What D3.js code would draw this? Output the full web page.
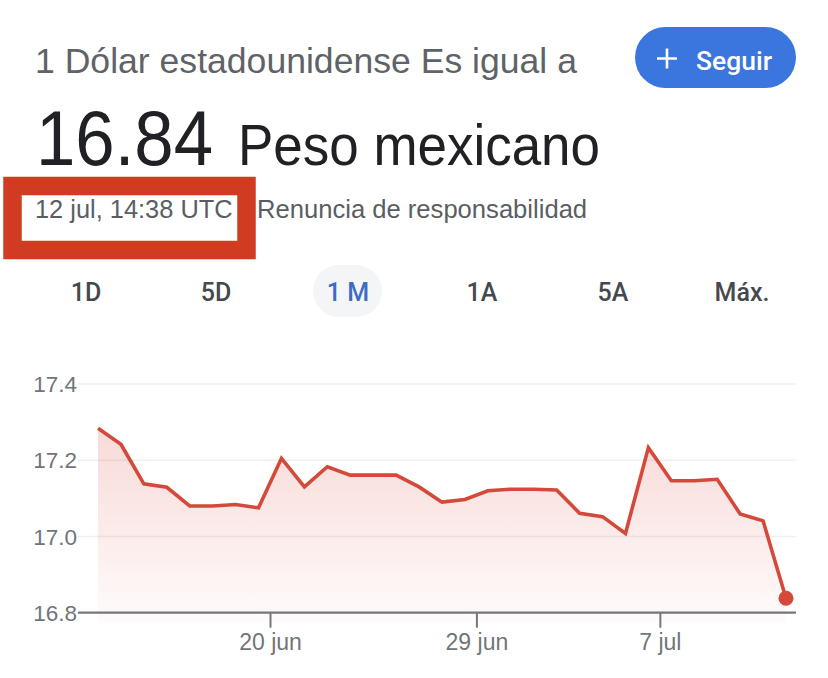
<!DOCTYPE html>
<html>
<head>
<meta charset="utf-8">
<script src="https://cdn.jsdelivr.net/npm/d3@7"></script>
<style>
  html, body { margin: 0; padding: 0; background: #ffffff; }
  svg { display: block; }
</style>
</head>
<body>
<div id="chart"></div>
<script>
// ---------- data ----------
const dates = [
  "2023-06-12","2023-06-13","2023-06-14","2023-06-15","2023-06-16","2023-06-17","2023-06-18",
  "2023-06-19","2023-06-20","2023-06-21","2023-06-22","2023-06-23","2023-06-24","2023-06-25",
  "2023-06-26","2023-06-27","2023-06-28","2023-06-29","2023-06-30","2023-07-01","2023-07-02",
  "2023-07-03","2023-07-04","2023-07-05","2023-07-06","2023-07-07","2023-07-08","2023-07-09",
  "2023-07-10","2023-07-11","2023-07-12"
];
const rates = [
  17.284, 17.242, 17.138, 17.129, 17.080, 17.080, 17.084,
  17.075, 17.205, 17.130, 17.183, 17.161, 17.161, 17.161,
  17.130, 17.090, 17.097, 17.120, 17.124, 17.124, 17.122,
  17.061, 17.052, 17.008, 17.233, 17.146, 17.146, 17.150,
  17.059, 17.041, 16.838
];
const yTicks = [16.8, 17.0, 17.2, 17.4];
const yTickLabels = ["16.8", "17.0", "17.2", "17.4"];
const xTickDates = ["2023-06-20", "2023-06-29", "2023-07-07"];
const xTickLabels = ["20 jun", "29 jun", "7 jul"];
const tabs = ["1D", "5D", "1 M", "1A", "5A", "Máx."];
const activeTab = "1 M";
const headerLine = "1 Dólar estadounidense Es igual a";
const currentValue = "16.84";
const currencyName = "Peso mexicano";
const timestamp = "12 jul, 14:38 UTC";
const disclaimer = "Renuncia de responsabilidad";
const followLabel = "Seguir";

// ---------- setup ----------
const W = 828, H = 678;
const parsePoint = d3.timeParse("%Y-%m-%d %H:%M");
const parseDay = d3.timeParse("%Y-%m-%d");
const data = dates.map((d, i) => ({ date: parsePoint(d + " 12:00"), value: rates[i] }));

const svg = d3.select("#chart").append("svg")
  .attr("width", W).attr("height", H)
  .attr("viewBox", `0 0 ${W} ${H}`);
svg.append("rect").attr("width", W).attr("height", H).attr("fill", "#fff");

const SANS = "'Liberation Sans', Arial, Helvetica, sans-serif";
const MED = "Roboto, 'Liberation Sans', Arial, sans-serif";

// ---------- header ----------
svg.append("text")
  .attr("x", 35).attr("y", 73)
  .attr("font-family", SANS).attr("font-size", 35.6)
  .attr("fill", "#5f6368")
  .text(headerLine);

// Follow button
const btn = svg.append("g");
btn.append("rect")
  .attr("x", 635).attr("y", 27).attr("width", 161).attr("height", 61)
  .attr("rx", 30.5).attr("fill", "#3a76dd");
btn.append("path")
  .attr("d", "M657,58.5 H677 M667,48.5 V68.5")
  .attr("stroke", "#fff").attr("stroke-width", 2.6).attr("fill", "none");
btn.append("text")
  .attr("x", 696).attr("y", 70)
  .attr("font-family", MED).attr("font-size", 25).attr("font-weight", 500)
  .attr("fill", "#fff")
  .attr("textLength", 76).attr("lengthAdjust", "spacingAndGlyphs")
  .text(followLabel);

// big value
svg.append("text")
  .attr("x", 36).attr("y", 165)
  .attr("font-family", SANS).attr("font-size", 77)
  .attr("fill", "#202124")
  .attr("textLength", 177).attr("lengthAdjust", "spacingAndGlyphs")
  .text(currentValue);
svg.append("text")
  .attr("x", 238).attr("y", 165)
  .attr("font-family", SANS).attr("font-size", 57)
  .attr("fill", "#202124")
  .attr("textLength", 362).attr("lengthAdjust", "spacingAndGlyphs")
  .text(currencyName);

// red highlight frame
svg.append("rect")
  .attr("x", 12.5).attr("y", 186).attr("width", 234).attr("height", 64)
  .attr("fill", "none").attr("stroke", "#d03c21").attr("stroke-width", 18.5);

svg.append("text")
  .attr("x", 35).attr("y", 218)
  .attr("font-family", SANS).attr("font-size", 25.4)
  .attr("fill", "#5a5e63")
  .text(timestamp);
svg.append("text")
  .attr("x", 257).attr("y", 218)
  .attr("font-family", SANS).attr("font-size", 25.6)
  .attr("fill", "#5a5e63")
  .text(disclaimer);

// ---------- tabs ----------
const tabX = d3.scalePoint().domain(tabs).range([86, 742]);
const tabCenters = { "1D": 86, "5D": 216, "1 M": 348, "1A": 482, "5A": 613, "Máx.": 742 };
svg.append("rect")
  .attr("x", 313).attr("y", 265).attr("width", 69).attr("height", 52)
  .attr("rx", 26).attr("fill", "#f4f5f6");
svg.append("g").selectAll("text").data(tabs).join("text")
  .attr("x", d => tabCenters[d] !== undefined ? tabCenters[d] : tabX(d))
  .attr("y", 301)
  .attr("text-anchor", "middle")
  .attr("font-family", MED).attr("font-size", 25).attr("font-weight", 500)
  .attr("fill", d => d === activeTab ? "#3d6cc7" : "#45494e")
  .text(d => d);

// ---------- chart ----------
const x = d3.scaleTime()
  .domain(d3.extent(data, d => d.date))
  .range([98, 786]);
const y = d3.scaleLinear()
  .domain([yTicks[0], yTicks[yTicks.length - 1]])
  .range([612.7, 384]);
const plotLeft = 78, plotRight = 796;

// gridlines
svg.append("g").selectAll("line").data(yTicks.slice(1)).join("line")
  .attr("x1", plotLeft).attr("x2", plotRight)
  .attr("y1", d => y(d)).attr("y2", d => y(d))
  .attr("stroke", "#efefef").attr("stroke-width", 1.5);

// y labels
svg.append("g").selectAll("text").data(yTicks).join("text")
  .attr("x", 77).attr("y", d => y(d))
  .attr("dy", "0.36em")
  .attr("text-anchor", "end")
  .attr("font-family", SANS).attr("font-size", 22.5)
  .attr("fill", "#70757a")
  .text((d, i) => yTickLabels[i]);

// area gradient
const defs = svg.append("defs");
const grad = defs.append("linearGradient")
  .attr("id", "areaGrad")
  .attr("gradientUnits", "userSpaceOnUse")
  .attr("x1", 0).attr("x2", 0)
  .attr("y1", y(d3.max(rates))).attr("y2", y(yTicks[0]) + 10);
grad.append("stop").attr("offset", "0%").attr("stop-color", "#d9463a").attr("stop-opacity", 0.2);
grad.append("stop").attr("offset", "100%").attr("stop-color", "#d9463a").attr("stop-opacity", 0.02);

const area = d3.area()
  .x(d => x(d.date))
  .y0(y(yTicks[0]) + 10)
  .y1(d => y(d.value));
svg.append("path").datum(data)
  .attr("d", area)
  .attr("fill", "url(#areaGrad)");

// x axis
const xAxis = d3.axisBottom(x)
  .tickValues(xTickDates.map(parseDay))
  .tickFormat((d, i) => xTickLabels[i])
  .tickSize(15).tickSizeOuter(0).tickPadding(6);
const gx = svg.append("g")
  .attr("transform", `translate(0,${y(yTicks[0])})`)
  .call(xAxis);
gx.select(".domain").remove();
gx.insert("line", ":first-child")
  .attr("x1", plotLeft).attr("x2", plotRight)
  .attr("y1", 0).attr("y2", 0)
  .attr("stroke", "#74777b").attr("stroke-width", 2.2);
gx.selectAll(".tick line").attr("stroke", "#74777b").attr("stroke-width", 2);
gx.selectAll(".tick text")
  .attr("font-family", SANS).attr("font-size", 23)
  .attr("fill", "#70757a");

// line
const line = d3.line()
  .x(d => x(d.date))
  .y(d => y(d.value));
svg.append("path").datum(data)
  .attr("d", line)
  .attr("fill", "none")
  .attr("stroke", "#d4493a")
  .attr("stroke-width", 3.6)
  .attr("stroke-linejoin", "miter");

// last point dot
const last = data[data.length - 1];
svg.append("circle")
  .attr("cx", x(last.date)).attr("cy", y(last.value))
  .attr("r", 7.5).attr("fill", "#d4493a");
</script>
</body>
</html>
